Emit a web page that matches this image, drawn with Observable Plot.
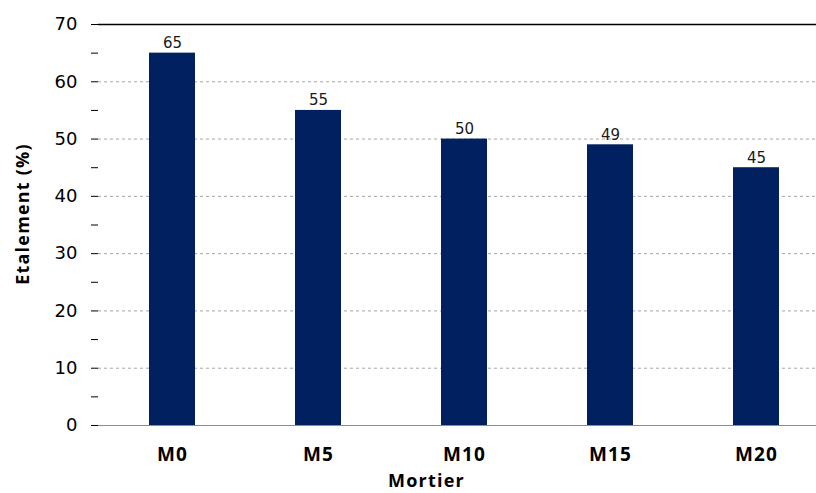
<!DOCTYPE html>
<html>
<head>
<meta charset="utf-8">
<script src="https://cdn.jsdelivr.net/npm/d3@7"></script>
<script src="https://cdn.jsdelivr.net/npm/@observablehq/plot@0.6"></script>
<style>
  html, body { margin: 0; padding: 0; background: #fff; }
  #chart { width: 816px; height: 493px; overflow: hidden; }
</style>
</head>
<body>
<div id="chart"></div>
<script>
// Spread (étalement) of each mortar mix
const mortiers = ["M0", "M5", "M10", "M15", "M20"];
const etalement = [65, 55, 50, 49, 45];

// Y axis: labelled every 10, minor ticks every 5
const yTicks = [0, 5, 10, 15, 20, 25, 30, 35, 40, 45, 50, 55, 60, 65, 70];
const yLabels = [0, 10, 20, 30, 40, 50, 60, 70];
const yGrid = [10, 20, 30, 40, 50, 60];

const bars = mortiers.map((m, i) => ({mortier: m, value: etalement[i]}));

const boldText = {fontFamily: "Open Sans", fontWeight: "bold", fontSize: 18, fill: "#000"};

const chart = Plot.plot({
  width: 816,
  height: 493,
  marginTop: 24,
  marginBottom: 68,
  marginLeft: 98,
  marginRight: 0,
  style: {fontFamily: "DejaVu Sans", fontSize: "17px", background: "#fff", color: "#000"},
  x: {type: "band", domain: mortiers, range: [98, 829], paddingInner: 0.685, paddingOuter: 0.3425},
  y: {domain: [0, 70]},
  marks: [
    Plot.ruleY(yGrid, {stroke: "#a6a6a6", strokeDasharray: "3,3", strokeWidth: 1}),
    Plot.barY(bars, {x: "mortier", y: "value", fill: "#002060"}),
    Plot.text(bars, {
      x: "mortier", y: "value", text: d => String(d.value),
      lineAnchor: "bottom", dy: -5, fontSize: 15, fill: "#1a1a1a"
    }),
    Plot.ruleY([0], {stroke: "#8c8c8c", strokeWidth: 1.2}),
    Plot.ruleY([70], {stroke: "#000", strokeWidth: 1.5}),
    // tick marks every 5 plus the axis line
    Plot.axisY({ticks: yTicks, tickSize: 7, line: true, text: null, label: null, stroke: "#000"}),
    // tick labels every 10
    Plot.axisY({
      ticks: yLabels, tickSize: 0, tickPadding: 21, label: null,
      fontFamily: "DejaVu Sans", fontSize: 18, fill: "#000"
    }),
    Plot.axisX({
      tickSize: 0, tickPadding: 22, label: null,
      fontFamily: "Open Sans", fontWeight: "bold", fontSize: 19
    }),
    Plot.text(["Mortier"], {
      frameAnchor: "bottom-left", textAnchor: "middle", dx: 328, dy: 56, lineAnchor: "middle",
      ...boldText, text: d => d
    }),
    Plot.text(["Etalement (%)"], {
      frameAnchor: "left", textAnchor: "middle", dx: -75, dy: -11, rotate: -90, lineAnchor: "middle",
      ...boldText, text: d => d
    })
  ]
});

// bold titles are drawn with a little extra tracking
d3.select(chart).selectAll("text")
  .filter(function () { return d3.select(this).attr("font-weight") === "bold"
    || d3.select(this.parentNode).attr("font-weight") === "bold"; })
  .style("letter-spacing", "1.2px");

document.getElementById("chart").appendChild(chart);
</script>
</body>
</html>
